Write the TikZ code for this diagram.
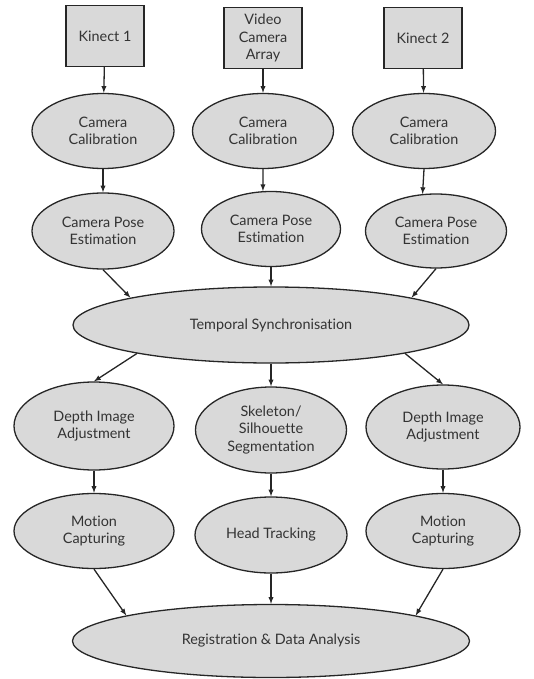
\documentclass[tikz,border=0pt]{standalone}
\usepackage{fontspec}
\setmainfont{Lato}[Ligatures=CommonOff]
\usetikzlibrary{arrows,shapes}

\begin{document}
\begin{tikzpicture}[x=1pt,y=-1pt,>=latex]
\tikzstyle{every node} = [align=center, font=\fontsize{14.4}{17.5}\selectfont, text=black!80, draw=black!85, fill=black!15, line width=1.3pt, inner sep=0pt]
\tikzstyle{src} = [rectangle, minimum width=78pt, minimum height=61pt]
\tikzstyle{proc} = [ellipse]
\tikzstyle{link} = [->, line width=1.3pt, draw=black!85]
\useasboundingbox (0,0) rectangle (534,679);
\node[src] (kinect1) at (105,36) {Kinect 1};
\node[src] (vca) at (263,38) {Video\\Camera\\Array};
\node[src] (kinect2) at (423,38) {Kinect 2};
\node[proc, minimum width=142pt, minimum height=75pt] (calib1) at (103,131) {Camera\\Calibration};
\node[proc, minimum width=141pt, minimum height=75pt] (calib2) at (263,131) {Camera\\Calibration};
\node[proc, minimum width=143pt, minimum height=75pt] (calib3) at (424,131) {Camera\\Calibration};
\node[proc, minimum width=142pt, minimum height=76pt] (pose1) at (103,231) {Camera Pose\\Estimation};
\node[proc, minimum width=139pt, minimum height=75pt] (pose2) at (271,229) {Camera Pose\\Estimation};
\node[proc, minimum width=141pt, minimum height=74pt] (pose3) at (436,231) {Camera Pose\\Estimation};
\node[proc, minimum width=396pt, minimum height=76pt] (sync) at (271,325) {Temporal Synchronisation};
\node[proc, minimum width=160pt, minimum height=88pt] (depth1) at (94,426) {Depth Image\\Adjustment};
\node[proc, minimum width=151pt, minimum height=86pt] (segment) at (271,430) {Skeleton/\\Silhouette\\Segmentation};
\node[proc, minimum width=154pt, minimum height=84pt] (depth2) at (443,427) {Depth Image\\Adjustment};
\node[proc, minimum width=160pt, minimum height=75pt] (motion1) at (94,531) {Motion\\Capturing};
\node[proc, minimum width=152pt, minimum height=76pt] (head) at (271,535) {Head Tracking};
\node[proc, minimum width=154pt, minimum height=75pt] (motion2) at (443,531) {Motion\\Capturing};
\node[proc, minimum width=397pt, minimum height=73pt] (regist) at (271,641) {Registration \& Data Analysis};

\draw [link] (kinect1) -- (calib1);
\draw [link] (vca) -- (calib2);
\draw [link] (kinect2) -- (calib3);
\draw [link] (calib1) -- (pose1);
\draw [link] (calib2.south) -- (pose2.102);
\draw [link] (calib3.south) -- (pose3.110);
\draw [link] (pose1.south) -- (sync.169);
\draw [link] (pose2) -- (sync);
\draw [link] (pose3.south) -- (sync.11);
\draw [link] (sync.192) -- (depth1.north);
\draw [link] (sync) -- (segment);
\draw [link] (sync.348) -- (depth2.north);
\draw [link] (depth1) -- (motion1);
\draw [link] (segment) -- (head);
\draw [link] (depth2) -- (motion2);
\draw [link] (motion1.south) -- (regist.170);
\draw [link] (head) -- (regist);
\draw [link] (motion2.south) -- (regist.10);
\end{tikzpicture}
\end{document}
